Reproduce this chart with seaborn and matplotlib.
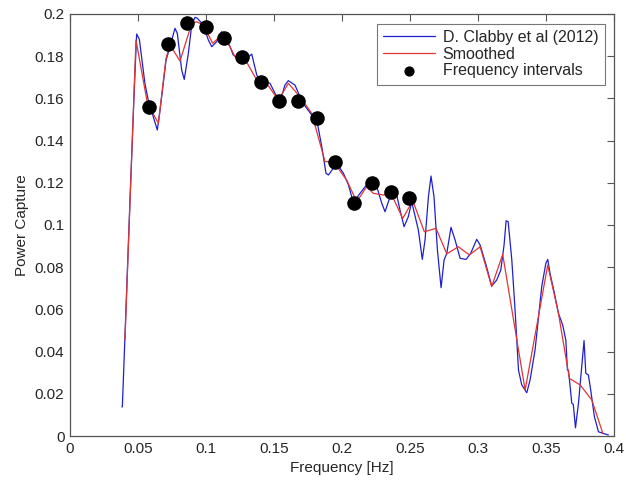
import numpy as np
import pandas as pd
import matplotlib
matplotlib.use("Agg")
import matplotlib.pyplot as plt
import seaborn as sns

# D. Clabby et al (2012) power capture curve
clabby_freq = [0.0382, 0.0385, 0.0400, 0.0440, 0.0470, 0.0490, 0.0510, 0.0551, 0.0576,
               0.0642, 0.0662, 0.0706, 0.0735, 0.0772, 0.0789, 0.0821, 0.0840, 0.0870,
               0.0895, 0.0919, 0.0936, 0.0980, 0.1017, 0.1042, 0.1079, 0.1115, 0.1152,
               0.1200, 0.1250, 0.1300, 0.1336, 0.1373, 0.1397, 0.1470, 0.1507, 0.1544,
               0.1580, 0.1605, 0.1654, 0.1691, 0.1728, 0.1777, 0.1814, 0.1851, 0.1882,
               0.1900, 0.1936, 0.1961, 0.2010, 0.2047, 0.2071, 0.2096, 0.2132, 0.2181,
               0.2218, 0.2255, 0.2292, 0.2316, 0.2353, 0.2377, 0.2402, 0.2426, 0.2456,
               0.2487, 0.2512, 0.2561, 0.2590, 0.2610, 0.2635, 0.2654, 0.2676, 0.2701,
               0.2728, 0.2750, 0.2770, 0.2801, 0.2831, 0.2868, 0.2912, 0.2946, 0.2990,
               0.3015, 0.3059, 0.3100, 0.3137, 0.3167, 0.3191, 0.3206, 0.3221, 0.3248,
               0.3272, 0.3297, 0.3321, 0.3358, 0.3382, 0.3419, 0.3468, 0.3498, 0.3512,
               0.3529, 0.3560, 0.3591, 0.3622, 0.3645, 0.3657, 0.3665, 0.3689, 0.3700,
               0.3716, 0.3738, 0.3762, 0.3779, 0.3792, 0.3811, 0.3828, 0.3855, 0.3885,
               0.3922, 0.3958]
clabby_power = [0.0137, 0.0140, 0.0400, 0.1100, 0.1600, 0.1905, 0.1880, 0.1670, 0.1590,
                0.1450, 0.1545, 0.1780, 0.1845, 0.1932, 0.1908, 0.1735, 0.1690, 0.1813,
                0.1948, 0.1984, 0.1980, 0.1948, 0.1877, 0.1845, 0.1869, 0.1916, 0.1885,
                0.1806, 0.1785, 0.1790, 0.1810, 0.1711, 0.1679, 0.1672, 0.1624, 0.1584,
                0.1663, 0.1684, 0.1663, 0.1608, 0.1564, 0.1521, 0.1498, 0.1371, 0.1245,
                0.1237, 0.1269, 0.1292, 0.1245, 0.1190, 0.1134, 0.1118, 0.1150, 0.1190,
                0.1213, 0.1182, 0.1103, 0.1063, 0.1134, 0.1174, 0.1142, 0.1071, 0.0992,
                0.1039, 0.1110, 0.0976, 0.0837, 0.0929, 0.1134, 0.1232, 0.1134, 0.0882,
                0.0703, 0.0834, 0.0866, 0.0989, 0.0929, 0.0842, 0.0837, 0.0866, 0.0932,
                0.0905, 0.0810, 0.0711, 0.0739, 0.0787, 0.0905, 0.1020, 0.1016, 0.0834,
                0.0597, 0.0313, 0.0242, 0.0205, 0.0265, 0.0408, 0.0708, 0.0818, 0.0837,
                0.0771, 0.0680, 0.0581, 0.0526, 0.0455, 0.0313, 0.0310, 0.0155, 0.0150,
                0.0039, 0.0155, 0.0329, 0.0452, 0.0297, 0.0289, 0.0218, 0.0092, 0.0020,
                0.0012, 0.0005]

# Smoothed curve
smooth_freq = [0.0404, 0.0485, 0.0569, 0.0650, 0.0706, 0.0735, 0.0809, 0.0895, 0.0932,
               0.0980, 0.1049, 0.1115, 0.1176, 0.1213, 0.1287, 0.1373, 0.1446, 0.1532,
               0.1605, 0.1691, 0.1777, 0.1875, 0.1936, 0.2034, 0.2108, 0.2181, 0.2230,
               0.2304, 0.2360, 0.2446, 0.2520, 0.2605, 0.2691, 0.2770, 0.2855, 0.2936,
               0.3015, 0.3100, 0.3181, 0.3346, 0.3512, 0.3591, 0.3671, 0.3750, 0.3836,
               0.3917]
smooth_power = [0.0455, 0.1877, 0.1577, 0.1482, 0.1790, 0.1853, 0.1777, 0.1956, 0.1963,
                0.1948, 0.1861, 0.1900, 0.1845, 0.1798, 0.1785, 0.1687, 0.1671, 0.1592,
                0.1671, 0.1608, 0.1529, 0.1300, 0.1300, 0.1213, 0.1110, 0.1182, 0.1150,
                0.1142, 0.1150, 0.1031, 0.1115, 0.0968, 0.0984, 0.0863, 0.0897, 0.0858,
                0.0897, 0.0708, 0.0861, 0.0218, 0.0810, 0.0581, 0.0273, 0.0242, 0.0171,
                0.0013]

# Frequency intervals (black dots)
interval_freq = [0.0581, 0.0721, 0.0860, 0.1000, 0.1132, 0.1265, 0.1404, 0.1537,
                 0.1676, 0.1816, 0.1949, 0.2088, 0.2221, 0.2360, 0.2493]
interval_power = [0.1560, 0.1858, 0.1957, 0.1938, 0.1886, 0.1796, 0.1678, 0.1588,
                  0.1588, 0.1507, 0.1299, 0.1104, 0.1199, 0.1156, 0.1128]

clabby = pd.DataFrame({'freq': clabby_freq, 'power': clabby_power})
smooth = pd.DataFrame({'freq': smooth_freq, 'power': smooth_power})
intervals = pd.DataFrame({'freq': interval_freq, 'power': interval_power})

sns.set_style("white")
plt.rcParams['font.family'] = ['Liberation Sans', 'DejaVu Sans']

fig = plt.figure(figsize=(6.26, 4.82), dpi=100)
ax = fig.add_axes([0.1118, 0.0954, 0.8692, 0.8756])

sns.lineplot(data=clabby, x='freq', y='power', sort=False, estimator=None,
             color='#1f1fd0', linewidth=0.9, label='D. Clabby et al (2012)', ax=ax)
sns.lineplot(data=smooth, x='freq', y='power', sort=False, estimator=None,
             color='#e03535', linewidth=0.9, label='Smoothed', ax=ax)
sns.scatterplot(data=intervals, x='freq', y='power', color='black', s=110,
                edgecolor='black', linewidth=0, label='Frequency intervals', ax=ax, zorder=3)

ax.set_xlim(0, 0.4)
ax.set_ylim(0, 0.2)
ax.set_xticks(np.arange(0, 0.401, 0.05))
ax.set_yticks(np.arange(0, 0.201, 0.02))
ax.set_xticklabels(['0', '0.05', '0.1', '0.15', '0.2', '0.25', '0.3', '0.35', '0.4'])
ax.set_yticklabels(['0', '0.02', '0.04', '0.06', '0.08', '0.1', '0.12', '0.14', '0.16',
                    '0.18', '0.2'])
ax.set_xlabel('Frequency [Hz]', fontsize=11)
ax.set_ylabel('Power Capture', fontsize=11)
ax.tick_params(direction='in', length=5, width=0.8, top=True, right=True,
               labelsize=11, color='#555555', pad=4)
for side in ax.spines.values():
    side.set_color('#555555')
    side.set_linewidth(0.9)

leg = ax.legend(loc='upper right', fontsize=11.5, frameon=True, fancybox=False,
                borderaxespad=0.6, handlelength=3.2, labelspacing=0.1,
                borderpad=0.4, handletextpad=0.5, markerscale=0.7)
leg.get_frame().set_edgecolor('#555555')
leg.get_frame().set_linewidth(0.8)

fig.savefig('out.png', dpi=100)
